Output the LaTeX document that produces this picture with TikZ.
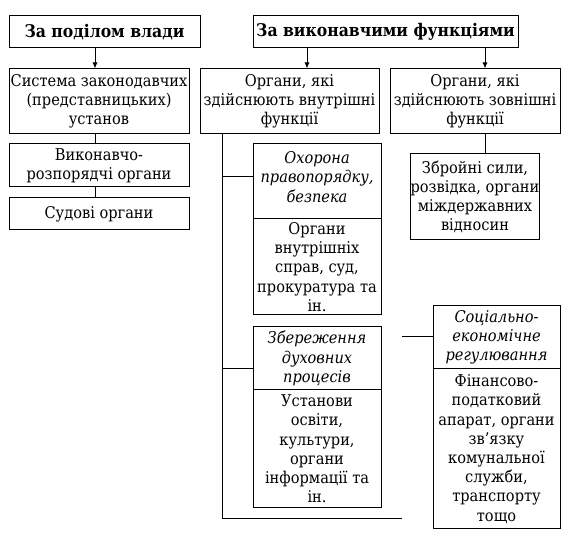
\documentclass[tikz,border=0pt]{standalone}
\usepackage{fontspec}
\setmainfont{DejaVu Serif Condensed}
\usetikzlibrary{arrows.meta}
\begin{document}
\begin{tikzpicture}[x=1pt,y=-1pt,
  box/.style={draw, line width=1pt, inner sep=0pt, align=center, font=\fontsize{16.2}{19.2}\selectfont},
  head/.style={box, font=\fontsize{17.4}{19.2}\selectfont\bfseries},
  ital/.style={box, font=\fontsize{16.2}{19.2}\selectfont\itshape},
  conn/.style={line width=1pt},
  arr/.style={conn, -{Latex[length=6pt,width=5pt]}}]
\useasboundingbox (0,0) rectangle (571,537);
% headings
\node[head, minimum width=191pt, minimum height=32pt] (h1) at (104.5,32) {За поділом влади};
\node[head, minimum width=265pt, minimum height=32pt] (h2) at (385.5,32) {За виконавчими функціями};
% left column
\node[box, minimum width=180pt, minimum height=65pt] (a1) at (99,101.5) {Система законодавчих\\(представницьких)\\установ};
\node[box, minimum width=180pt, minimum height=43pt] (a2) at (99,165.5) {Виконавчо-\\розпорядчі органи};
\node[box, minimum width=180pt, minimum height=32pt] (a3) at (99,214) {Судові органи};
% right top
\node[box, minimum width=179pt, minimum height=65pt] (b1) at (289.5,101.5) {Органи, які\\здійснюють внутрішні\\функції};
\node[box, minimum width=170pt, minimum height=65pt] (b2) at (475,101.5) {Органи, які\\здійснюють зовнішні\\функції};
\node[box, minimum width=126pt, minimum height=86pt] (b3) at (475,197) {Збройні сили,\\розвідка, органи\\міждержавних\\відносин};
% inner boxes
\node[ital, minimum width=128pt, minimum height=75pt] (c1t) at (317,181.5) {Охорона\\правопорядку,\\безпека\\[-10pt]};
\node[box, minimum width=128pt, minimum height=96pt] (c1b) at (317,267) {Органи\\внутрішніх\\справ, суд,\\прокуратура та\\ін.};
\node[ital, minimum width=128pt, minimum height=63pt] (c2t) at (317,358.5) {Збереження\\духовних\\процесів};
\node[box, minimum width=128pt, minimum height=118pt] (c2b) at (317,449) {Установи\\освіти,\\культури,\\органи\\інформації та\\ін.};
\node[ital, minimum width=127pt, minimum height=63pt] (dt) at (496.5,337.5) {Соціально-\\економічне\\регулювання};
\node[box, minimum width=127pt, minimum height=160pt] (db) at (496.5,449) {Фінансово-\\податковий\\апарат, органи\\зв’язку\\комунальної\\служби,\\транспорту\\тощо};
% helper coordinates
\coordinate (xl) at (95,0);
\coordinate (xr1) at (307,0);
\coordinate (xr2) at (485,0);
\coordinate (trunk) at (222,519);
\coordinate (trunkend) at (402,519);
\coordinate (j1) at (222,177);
\coordinate (j2) at (222,369);
\coordinate (dfree) at (402,337);
% connectors
\draw[arr] (h1.south -| xl) -- (a1.north -| xl);
\draw[conn] (a1.south -| xl) -- (a2.north -| xl);
\draw[conn] (a2.south -| xl) -- (a3.north -| xl);
\draw[arr] (h2.south -| xr1) -- (b1.north -| xr1);
\draw[arr] (h2.south -| xr2) -- (b2.north -| xr2);
\draw[conn] (b2.south -| xr2) -- (b3.north -| xr2);
\draw[conn] (b1.south -| trunk) -- (trunk) -- (trunkend);
\draw[conn] (j1) -- (j1 -| c1t.west);
\draw[conn] (j2) -- (j2 -| c2t.west);
\draw[conn] (dfree) -- (dfree -| dt.west);
\end{tikzpicture}
\end{document}
